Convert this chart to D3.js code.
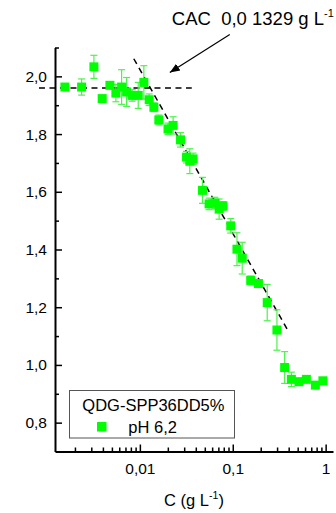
<!DOCTYPE html>
<html>
<head>
<meta charset="utf-8">
<script src="https://cdn.jsdelivr.net/npm/d3@7/dist/d3.min.js"></script>
<style>
  html, body { margin: 0; padding: 0; background: #fff; }
  svg { display: block; font-family: Arial, "Liberation Sans", sans-serif; }
  .pre { white-space: pre; }
</style>
</head>
<body>
<svg id="chart" width="336" height="513"></svg>
<script>
// Surface tension vs concentration, QDG-SPP36DD5% at pH 6,2
const concentration = [0.00156, 0.00236, 0.0032, 0.00393, 0.00476, 0.00552, 0.00636, 0.0072, 0.00826, 0.0096,
  0.01104, 0.0126, 0.01415, 0.016, 0.0201, 0.0228, 0.0274, 0.0318, 0.0345, 0.0374,
  0.0472, 0.0556, 0.064, 0.0713, 0.0786, 0.0951, 0.111, 0.1265, 0.156, 0.189,
  0.235, 0.299, 0.362, 0.428, 0.516, 0.62, 0.775, 0.935];
const response = [1.963, 1.963, 2.033, 1.923, 1.969, 1.942, 1.963, 1.946, 1.934, 1.934,
  1.979, 1.919, 1.893, 1.849, 1.818, 1.830, 1.780, 1.720, 1.706, 1.714,
  1.605, 1.558, 1.561, 1.540, 1.551, 1.482, 1.401, 1.370, 1.293, 1.282,
  1.216, 1.121, 0.991, 0.950, 0.942, 0.950, 0.930, 0.945];
const errors = [0.008, 0.028, 0.04, 0.006, 0.012, 0.03, 0.06, 0.05, 0.02, 0.045,
  0.058, 0.02, 0.015, 0.017, 0.02, 0.03, 0.025, 0.02, 0.043, 0.02,
  0.045, 0.02, 0.02, 0.035, 0.015, 0.025, 0.057, 0.055, 0.015, 0.01,
  0.063, 0.07, 0.055, 0.025, 0.01, 0.01, 0.01, 0.008];

// Fitted lines used to locate the CAC
const plateauX = [0.00082, 0.0362];
const plateauY = 1.96;
const slopeX = [0.0086, 0.39];
const slopeY = [2.061, 1.121];

// Annotation anchor points (data units)
const arrowFrom = [0.0929, 2.145];
const arrowTo = [0.021, 2.013];
const noteAt = [0.0221, 2.179];

const xMajor = [0.01, 0.1, 1];
const xMajorLabels = ["0,01", "0,1", "1"];
const xMinor = [0.002, 0.003, 0.004, 0.005, 0.006, 0.007, 0.008, 0.009,
  0.02, 0.03, 0.04, 0.05, 0.06, 0.07, 0.08, 0.09,
  0.2, 0.3, 0.4, 0.5, 0.6, 0.7, 0.8, 0.9];
const yMajor = [0.8, 1.0, 1.2, 1.4, 1.6, 1.8, 2.0];
const yMajorLabels = ["0,8", "1,0", "1,2", "1,4", "1,6", "1,8", "2,0"];
const yMinor = [0.9, 1.1, 1.3, 1.5, 1.7, 1.9, 2.1];

const svg = d3.select("#chart");
const x = d3.scaleLog().domain([0.00122, 1.2]).range([55, 333]);
const y = d3.scaleLinear().domain([0.7, 2.1]).range([451.5, 47.5]);

const green = "#00ff00";
const barGreen = "#4cf24c";

// Axes (ticks point inward)
svg.append("g").attr("transform", `translate(0,${y(0.7)})`)
  .call(d3.axisBottom(x).tickValues(xMajor).tickFormat((d, i) => xMajorLabels[i])
    .tickSizeInner(-7).tickSizeOuter(0).tickPadding(11));
svg.append("g").attr("transform", `translate(0,${y(0.7)})`)
  .call(d3.axisBottom(x).tickValues(xMinor).tickFormat("").tickSizeInner(-4).tickSizeOuter(0))
  .call(g => g.select(".domain").remove());

svg.append("g").attr("transform", `translate(${x.range()[0]},0)`)
  .call(d3.axisLeft(y).tickValues(yMajor).tickFormat((d, i) => yMajorLabels[i])
    .tickSizeInner(-7).tickSizeOuter(0).tickPadding(8));
svg.append("g").attr("transform", `translate(${x.range()[0]},0)`)
  .call(d3.axisLeft(y).tickValues(yMinor).tickFormat("").tickSizeInner(-4).tickSizeOuter(0))
  .call(g => g.select(".domain").remove());

svg.selectAll(".domain").attr("stroke", "#000").attr("stroke-width", 2);
svg.selectAll(".tick line").attr("stroke", "#000").attr("stroke-width", 1.5);
svg.selectAll(".tick text").attr("font-size", 15.5).attr("fill", "#000")
  .attr("font-family", "Arial, 'Liberation Sans', sans-serif");

// Fit lines
svg.append("line")
  .attr("x1", x(plateauX[0])).attr("x2", x(plateauX[1]))
  .attr("y1", y(plateauY)).attr("y2", y(plateauY))
  .attr("stroke", "#000").attr("stroke-width", 1.5).attr("stroke-dasharray", "6,4.5");
svg.append("line")
  .attr("x1", x(slopeX[0])).attr("x2", x(slopeX[1]))
  .attr("y1", y(slopeY[0])).attr("y2", y(slopeY[1]))
  .attr("stroke", "#000").attr("stroke-width", 1.5).attr("stroke-dasharray", "6,4.5");

// Error bars
const pts = concentration.map((c, i) => ({ c, v: response[i], e: errors[i] }));
const eb = svg.append("g").attr("stroke", barGreen).attr("stroke-width", 1.2);
pts.forEach(p => {
  const cx = x(p.c);
  eb.append("line").attr("x1", cx).attr("x2", cx).attr("y1", y(p.v + p.e)).attr("y2", y(p.v - p.e));
  [p.v + p.e, p.v - p.e].forEach(v => {
    eb.append("line").attr("x1", cx - 3.5).attr("x2", cx + 3.5).attr("y1", y(v)).attr("y2", y(v));
  });
});

// Markers
const s = 9;
svg.append("g").selectAll("rect").data(pts).join("rect")
  .attr("x", d => x(d.c) - s / 2).attr("y", d => y(d.v) - s / 2)
  .attr("width", s).attr("height", s).attr("fill", green);

// Arrow and CAC note
svg.append("defs").append("marker")
  .attr("id", "head").attr("viewBox", "0 0 10 10").attr("refX", 10).attr("refY", 5)
  .attr("markerWidth", 10).attr("markerHeight", 10).attr("markerUnits", "userSpaceOnUse")
  .attr("orient", "auto")
  .append("path").attr("d", "M0,1 L10,5 L0,9 Z").attr("fill", "#000");
svg.append("line")
  .attr("x1", x(arrowFrom[0])).attr("y1", y(arrowFrom[1]))
  .attr("x2", x(arrowTo[0])).attr("y2", y(arrowTo[1]))
  .attr("stroke", "#000").attr("stroke-width", 1.2).attr("marker-end", "url(#head)");

const note = svg.append("text").attr("class", "pre").attr("x", x(noteAt[0])).attr("y", y(noteAt[1]))
  .attr("font-size", 18.5).attr("fill", "#000");
note.append("tspan").text("CAC  0,0 1329 g L");
note.append("tspan").attr("font-size", 11).attr("dy", -8).text("-1");

// Axis title
const xt = svg.append("text").attr("x", 194).attr("y", 506).attr("text-anchor", "middle")
  .attr("font-size", 16.5).attr("fill", "#000");
xt.append("tspan").text("C (g L");
xt.append("tspan").attr("font-size", 10.5).attr("dy", -7).text("-1");
xt.append("tspan").attr("dy", 7).text(")");

// Legend
const lg = svg.append("g");
lg.append("rect").attr("x", 69.5).attr("y", 390.5).attr("width", 165).attr("height", 47.5)
  .attr("fill", "#fff").attr("stroke", "#555").attr("stroke-width", 1);
lg.append("text").attr("x", 153.4).attr("y", 410.7).attr("text-anchor", "middle")
  .attr("font-size", 16.5).attr("fill", "#000").text("QDG-SPP36DD5%");
lg.append("rect").attr("x", 97).attr("y", 422).attr("width", 9.5).attr("height", 9.5).attr("fill", green);
lg.append("text").attr("x", 128.3).attr("y", 433).attr("font-size", 16.5).attr("fill", "#000").text("pH 6,2");
</script>
</body>
</html>
